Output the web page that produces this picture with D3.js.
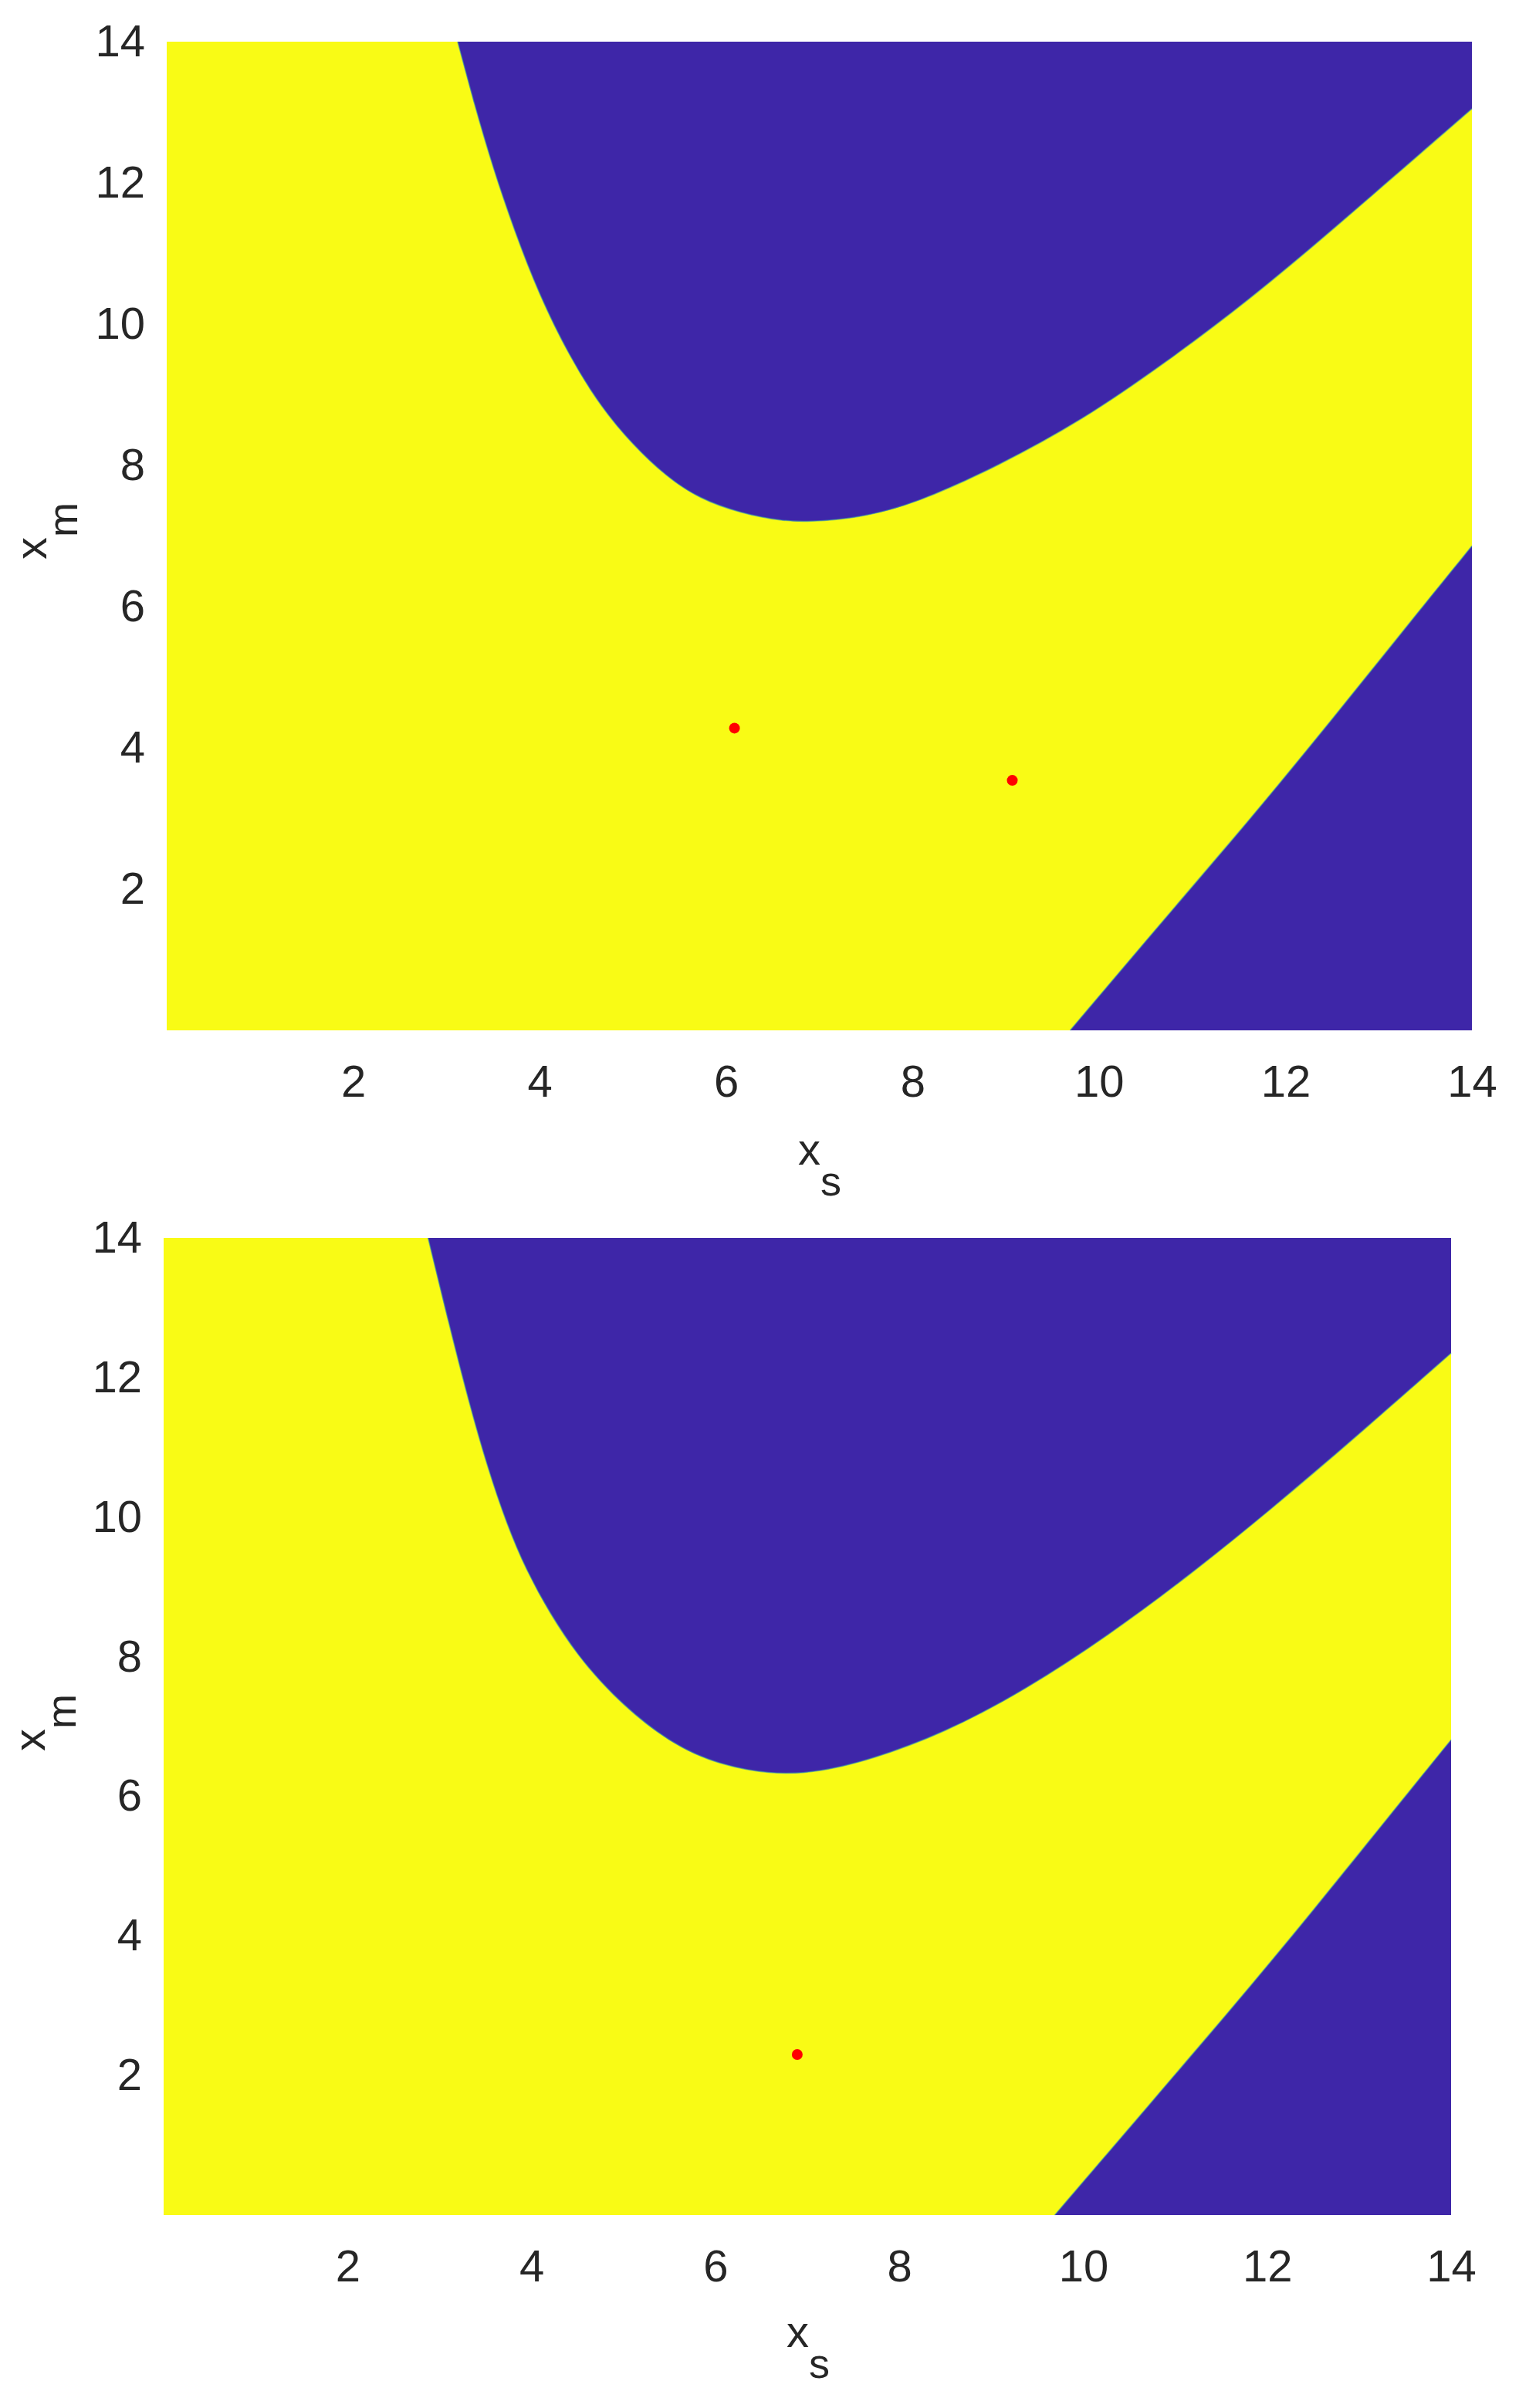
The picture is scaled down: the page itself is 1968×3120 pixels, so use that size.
<!DOCTYPE html>
<html>
<head>
<meta charset="utf-8">
<script src="https://cdn.jsdelivr.net/npm/d3@7"></script>
<style>
  body { margin: 0; background: #fff; }
  text { font-family: "Liberation Sans", Arial, sans-serif; fill: #262626; }
</style>
</head>
<body>
<script>
// tick values shared by both panels
var xTicks = [2, 4, 6, 8, 10, 12, 14];
var yTicks = [2, 4, 6, 8, 10, 12, 14];

// top panel: upper boundary of the blue region (x_s, x_m)
var topUpperX = [3.12, 3.3, 3.5, 3.73, 3.99, 4.32, 4.66, 5.0, 5.36, 5.71, 6.16, 6.61, 6.88, 7.41, 8.04, 8.93, 9.82, 10.71, 11.61, 12.5, 13.39, 14];
var topUpperY = [14, 13.11, 12.21, 11.32, 10.43, 9.54, 8.82, 8.29, 7.84, 7.53, 7.32, 7.21, 7.2, 7.25, 7.46, 8.0, 8.64, 9.45, 10.34, 11.33, 12.35, 13.05];
// top panel: lower right boundary
var topLowerX = [9.69, 10.71, 11.61, 12.5, 13.39, 14];
var topLowerY = [0, 1.59, 2.97, 4.4, 5.87, 6.86];
// top panel: red points
var topDotsX = [6.09, 9.07];
var topDotsY = [4.28, 3.54];

// bottom panel
var botUpperX = [2.875, 3.1, 3.32, 3.52, 3.73, 3.95, 4.2, 4.5, 4.87, 5.36, 5.89, 6.61, 7.14, 7.68, 8.48, 9.38, 10.27, 11.16, 12.05, 12.95, 14];
var botUpperY = [14, 12.78, 11.64, 10.72, 9.9, 9.22, 8.62, 8.02, 7.46, 6.9, 6.5, 6.3, 6.35, 6.52, 6.9, 7.53, 8.3, 9.17, 10.12, 11.13, 12.35];
var botLowerX = [9.69, 10.71, 11.61, 12.5, 13.39, 14];
var botLowerY = [0, 1.57, 2.95, 4.36, 5.82, 6.81];
var botDotsX = [6.89];
var botDotsY = [2.3];

var yellow = "#f9fb15";
var blue = "#3e26a8";

var svg = d3.select("body").append("svg")
  .attr("width", 1968)
  .attr("height", 3120);

svg.append("rect").attr("width", 1968).attr("height", 3120).attr("fill", "#fff");

function zip(xs, ys) {
  return xs.map(function(d, i) { return {x: d, y: ys[i]}; });
}

function drawPanel(opt) {
  var x = d3.scaleLinear().domain([0, 14]).range([opt.left, opt.right]);
  var y = d3.scaleLinear().domain([0, 14]).range([opt.bottom, opt.top]);
  var g = svg.append("g");

  // yellow background
  g.append("rect")
    .attr("x", x(0)).attr("y", y(14))
    .attr("width", x(14) - x(0))
    .attr("height", y(0) - y(14))
    .attr("fill", yellow);

  var edge = d3.line()
    .x(function(d) { return x(d.x); })
    .y(function(d) { return y(d.y); })
    .curve(d3.curveBasis);

  // upper blue region
  var upper = d3.area()
    .x(function(d) { return x(d.x); })
    .y0(y(14))
    .y1(function(d) { return y(d.y); })
    .curve(d3.curveBasis);
  var up = zip(opt.upperX, opt.upperY);
  g.append("path").datum(up).attr("d", upper).attr("fill", blue);
  g.append("path").datum(up).attr("d", edge)
    .attr("fill", "none").attr("stroke", "#3a9fa8").attr("stroke-width", 1.5).attr("opacity", 0.6);

  // lower right blue region
  var lower = d3.area()
    .x(function(d) { return x(d.x); })
    .y0(y(0))
    .y1(function(d) { return y(d.y); })
    .curve(d3.curveBasis);
  var lo = zip(opt.lowerX, opt.lowerY);
  g.append("path").datum(lo).attr("d", lower).attr("fill", blue);
  g.append("path").datum(lo).attr("d", edge)
    .attr("fill", "none").attr("stroke", "#3a9fa8").attr("stroke-width", 1.5).attr("opacity", 0.6);

  // red points
  g.selectAll(".dot")
    .data(zip(opt.dotsX, opt.dotsY))
    .enter().append("circle")
    .attr("cx", function(d) { return x(d.x); })
    .attr("cy", function(d) { return y(d.y); })
    .attr("r", 7)
    .attr("fill", "#ff0000");

  // axes, no lines, only labels
  var xAxis = g.append("g")
    .attr("transform", "translate(0," + y(0) + ")")
    .call(d3.axisBottom(x).tickValues(xTicks).tickSize(0).tickPadding(45));
  var yAxis = g.append("g")
    .attr("transform", "translate(" + x(0) + ",0)")
    .call(d3.axisLeft(y).tickValues(yTicks).tickSize(0).tickPadding(28));
  [xAxis, yAxis].forEach(function(a) {
    a.select(".domain").remove();
    a.selectAll("text")
      .attr("font-family", "Liberation Sans, Arial, sans-serif")
      .attr("font-size", 58)
      .attr("fill", "#262626");
  });

  // axis titles
  var xt = g.append("text")
    .attr("x", opt.xLabelX).attr("y", opt.xLabelY)
    .attr("text-anchor", "middle")
    .attr("font-size", 58);
  xt.append("tspan").text("x");
  xt.append("tspan").attr("dy", 40).attr("font-size", 54).text("s");

  var yt = g.append("text")
    .attr("transform", "translate(" + opt.yLabelX + "," + opt.yLabelY + ") rotate(-90)")
    .attr("text-anchor", "middle")
    .attr("font-size", 58);
  yt.append("tspan").text("x");
  yt.append("tspan").attr("dy", 40).attr("font-size", 54).text("m");
}

drawPanel({
  left: 216, right: 1907, top: 54, bottom: 1335,
  upperX: topUpperX, upperY: topUpperY,
  lowerX: topLowerX, lowerY: topLowerY,
  dotsX: topDotsX, dotsY: topDotsY,
  xLabelX: 1062, xLabelY: 1509,
  yLabelX: 60, yLabelY: 688
});

drawPanel({
  left: 212, right: 1880, top: 1604, bottom: 2870,
  upperX: botUpperX, upperY: botUpperY,
  lowerX: botLowerX, lowerY: botLowerY,
  dotsX: botDotsX, dotsY: botDotsY,
  xLabelX: 1047, xLabelY: 3041,
  yLabelX: 58, yLabelY: 2232
});
</script>
</body>
</html>
